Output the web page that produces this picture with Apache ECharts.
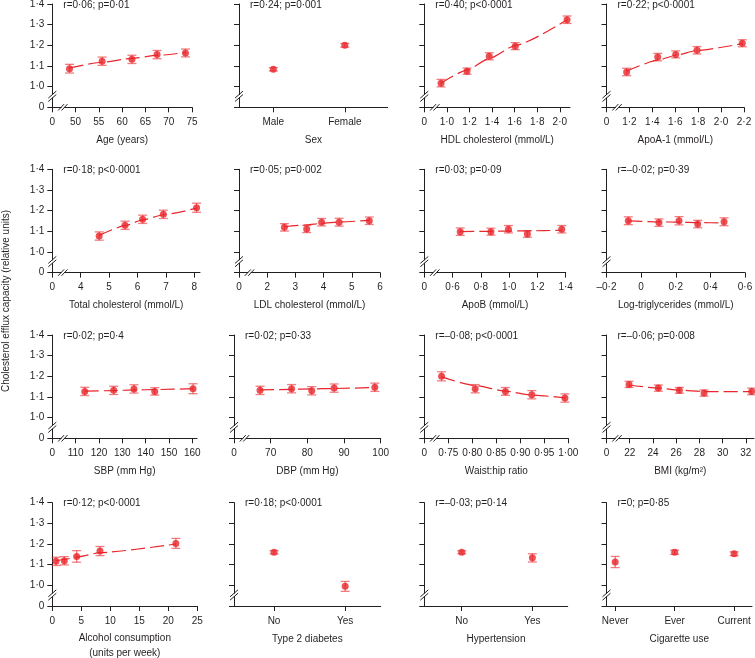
<!DOCTYPE html>
<html><head><meta charset="utf-8">
<script src="https://cdn.jsdelivr.net/npm/echarts@6/dist/echarts.min.js"></script>
<style>html,body{margin:0;padding:0;background:#fff}#c{width:755px;height:658px}</style>
</head><body><div id="c"></div>
<script>
// ---------- data ----------
const yTicks = [0.9, 1.0, 1.1, 1.2, 1.3, 1.4];
const yTickLabels = ['0', '1·0', '1·1', '1·2', '1·3', '1·4'];

const ageX = [48.7, 55.7, 62.1, 67.5, 73.6];
const ageY = [1.087, 1.123, 1.132, 1.155, 1.163];
const ageErr = [0.021, 0.02, 0.02, 0.02, 0.019];
const ageFit = [1.091, 1.118, 1.137, 1.151, 1.165];
const ageTicks = [45, 50, 55, 60, 65, 70, 75];
const ageTickLabels = ['0', '50', '55', '60', '65', '70', '75'];

const sexX = [0, 1];
const sexY = [1.084, 1.2];
const sexErr = [0.008, 0.009];
const sexTicks = [0, 1];
const sexTickLabels = ['Male', 'Female'];

const hdlX = [0.948, 1.178, 1.375, 1.605, 2.064];
const hdlY = [1.017, 1.075, 1.147, 1.196, 1.324];
const hdlErr = [0.018, 0.015, 0.017, 0.017, 0.018];
const hdlFit = [1.017, 1.080, 1.136, 1.199, 1.324];
const hdlTicks = [0.8, 1.0, 1.2, 1.4, 1.6, 1.8, 2.0];
const hdlTickLabels = ['0', '1·0', '1·2', '1·4', '1·6', '1·8', '2·0'];

const apoaX = [1.176, 1.447, 1.604, 1.79, 2.185];
const apoaY = [1.071, 1.143, 1.156, 1.176, 1.21];
const apoaErr = [0.018, 0.018, 0.017, 0.018, 0.017];
const apoaFit = [1.075, 1.128, 1.152, 1.175, 1.208];
const apoaTicks = [1.0, 1.2, 1.4, 1.6, 1.8, 2.0, 2.2];
const apoaTickLabels = ['0', '1·2', '1·4', '1·6', '1·8', '2·0', '2·2'];

const tcX = [4.65, 5.56, 6.18, 6.91, 8.08];
const tcY = [1.077, 1.129, 1.158, 1.182, 1.214];
const tcErr = [0.02, 0.02, 0.02, 0.02, 0.022];
const tcFit = [1.080, 1.127, 1.155, 1.180, 1.212];
const tcTicks = [3, 4, 5, 6, 7, 8];
const tcTickLabels = ['0', '4', '5', '6', '7', '8'];

const ldlX = [2.61, 3.40, 3.93, 4.55, 5.62];
const ldlY = [1.119, 1.111, 1.144, 1.144, 1.151];
const ldlErr = [0.018, 0.017, 0.018, 0.019, 0.018];
const ldlFit = [1.122, 1.131, 1.138, 1.145, 1.153];
const ldlTicks = [1, 2, 3, 4, 5, 6];
const ldlTickLabels = ['0', '2', '3', '4', '5', '6'];

const apobX = [0.654, 0.871, 0.995, 1.129, 1.372];
const apobY = [1.098, 1.098, 1.11, 1.087, 1.11];
const apobErr = [0.018, 0.017, 0.018, 0.016, 0.018];
const apobFit = [1.098, 1.100, 1.101, 1.102, 1.105];
const apobTicks = [0.4, 0.6, 0.8, 1.0, 1.2, 1.4];
const apobTickLabels = ['0', '0·6', '0·8', '1·0', '1·2', '1·4'];

const tgX = [-0.074, 0.103, 0.219, 0.327, 0.479];
const tgY = [1.151, 1.142, 1.151, 1.135, 1.146];
const tgErr = [0.019, 0.018, 0.02, 0.018, 0.019];
const tgFit = [1.150, 1.146, 1.144, 1.142, 1.140];
const tgTicks = [-0.2, 0, 0.2, 0.4, 0.6];
const tgTickLabels = ['–0·2', '0', '0·2', '0·4', '0·6'];

const sbpX = [113.9, 126.3, 135, 143.9, 160.3];
const sbpY = [1.127, 1.132, 1.139, 1.127, 1.14];
const sbpErr = [0.02, 0.02, 0.02, 0.018, 0.024];
const sbpFit = [1.128, 1.131, 1.134, 1.136, 1.14];
const sbpTicks = [100, 110, 120, 130, 140, 150, 160];
const sbpTickLabels = ['0', '110', '120', '130', '140', '150', '160'];

const dbpX = [67.1, 75.7, 81.2, 87.3, 98.4];
const dbpY = [1.132, 1.14, 1.13, 1.143, 1.147];
const dbpErr = [0.02, 0.02, 0.02, 0.02, 0.02];
const dbpFit = [1.134, 1.137, 1.139, 1.141, 1.146];
const dbpTicks = [60, 70, 80, 90, 100];
const dbpTickLabels = ['0', '70', '80', '90', '100'];

const whrX = [0.736, 0.806, 0.869, 0.924, 0.993];
const whrY = [1.2, 1.14, 1.127, 1.111, 1.095];
const whrErr = [0.022, 0.02, 0.019, 0.02, 0.02];
const whrFit = [1.197, 1.155, 1.128, 1.109, 1.096];
const whrTicks = [0.70, 0.75, 0.80, 0.85, 0.90, 0.95, 1.00];
const whrTickLabels = ['0', '0·75', '0·80', '0·85', '0·90', '0·95', '1·00'];

const bmiX = [21.94, 24.46, 26.27, 28.4, 32.5];
const bmiY = [1.161, 1.143, 1.132, 1.119, 1.127];
const bmiErr = [0.015, 0.015, 0.014, 0.015, 0.016];
const bmiFit = [1.158, 1.143, 1.133, 1.126, 1.126];
const bmiTicks = [20, 22, 24, 26, 28, 30, 32];
const bmiTickLabels = ['0', '22', '24', '26', '28', '30', '32'];

const alcX = [0.64, 2.07, 4.2, 8.22, 21.3];
const alcY = [1.116, 1.119, 1.14, 1.166, 1.203];
const alcErr = [0.02, 0.02, 0.028, 0.022, 0.024];
const alcFit = [1.118, 1.125, 1.137, 1.158, 1.2];
const alcTicks = [0, 5, 10, 15, 20, 25];
const alcTickLabels = ['0', '5', '10', '15', '20', '25'];

const t2dX = [0, 1];
const t2dY = [1.16, 0.995];
const t2dErr = [0.008, 0.024];
const t2dTicks = [0, 1];
const t2dTickLabels = ['No', 'Yes'];

const hypX = [0, 1];
const hypY = [1.16, 1.133];
const hypErr = [0.007, 0.02];
const hypTicks = [0, 1];
const hypTickLabels = ['No', 'Yes'];

const cigX = [0, 1, 2];
const cigY = [1.113, 1.16, 1.153];
const cigErr = [0.027, 0.01, 0.009];
const cigTicks = [0, 1, 2];
const cigTickLabels = ['Never', 'Ever', 'Current'];

const statTexts = [
  'r=0·06; p=0·01', 'r=0·24; p=0·001', 'r=0·40; p<0·0001', 'r=0·22; p<0·0001',
  'r=0·18; p<0·0001', 'r=0·05; p=0·002', 'r=0·03; p=0·09', 'r=–0·02; p=0·39',
  'r=0·02; p=0·4', 'r=0·02; p=0·33', 'r=–0·08; p<0·0001', 'r=–0·06; p=0·008',
  'r=0·12; p<0·0001', 'r=0·18; p<0·0001', 'r=–0·03; p=0·14', 'r=0; p=0·85'
];
const axisNames = [
  'Age (years)', 'Sex', 'HDL cholesterol (mmol/L)', 'ApoA-1 (mmol/L)',
  'Total cholesterol (mmol/L)', 'LDL cholesterol (mmol/L)', 'ApoB (mmol/L)', 'Log-triglycerides (mmol/L)',
  'SBP (mm Hg)', 'DBP (mm Hg)', 'Waist:hip ratio', 'BMI (kg/m²)',
  'Alcohol consumption\n(units per week)', 'Type 2 diabetes', 'Hypertension', 'Cigarette use'
];
const yTitle = 'Cholesterol efflux capacity (relative units)';

// ---------- panel assembly ----------
const panelData = [
  {x: ageX, y: ageY, e: ageErr, fit: ageFit, t: ageTicks, l: ageTickLabels, min: 45, max: 75, xb: true},
  {x: sexX, y: sexY, e: sexErr, t: sexTicks, l: sexTickLabels, min: -0.48, max: 1.6, xb: false},
  {x: hdlX, y: hdlY, e: hdlErr, fit: hdlFit, t: hdlTicks, l: hdlTickLabels, min: 0.8, max: 2.09, xb: true},
  {x: apoaX, y: apoaY, e: apoaErr, fit: apoaFit, t: apoaTicks, l: apoaTickLabels, min: 1.0, max: 2.2, xb: true},
  {x: tcX, y: tcY, e: tcErr, fit: tcFit, t: tcTicks, l: tcTickLabels, min: 3, max: 8.2, xb: true},
  {x: ldlX, y: ldlY, e: ldlErr, fit: ldlFit, t: ldlTicks, l: ldlTickLabels, min: 1, max: 6, xb: true},
  {x: apobX, y: apobY, e: apobErr, fit: apobFit, t: apobTicks, l: apobTickLabels, min: 0.4, max: 1.4, xb: true},
  {x: tgX, y: tgY, e: tgErr, fit: tgFit, t: tgTicks, l: tgTickLabels, min: -0.2, max: 0.6, xb: false},
  {x: sbpX, y: sbpY, e: sbpErr, fit: sbpFit, t: sbpTicks, l: sbpTickLabels, min: 100, max: 162, xb: true},
  {x: dbpX, y: dbpY, e: dbpErr, fit: dbpFit, t: dbpTicks, l: dbpTickLabels, min: 60, max: 100, xb: true},
  {x: whrX, y: whrY, e: whrErr, fit: whrFit, t: whrTicks, l: whrTickLabels, min: 0.70, max: 1.00, xb: true},
  {x: bmiX, y: bmiY, e: bmiErr, fit: bmiFit, t: bmiTicks, l: bmiTickLabels, min: 20, max: 32.7, xb: true},
  {x: alcX, y: alcY, e: alcErr, fit: alcFit, t: alcTicks, l: alcTickLabels, min: 0, max: 25, xb: false},
  {x: t2dX, y: t2dY, e: t2dErr, t: t2dTicks, l: t2dTickLabels, min: -0.563, max: 1.5, xb: false},
  {x: hypX, y: hypY, e: hypErr, t: hypTicks, l: hypTickLabels, min: -0.53, max: 1.5, xb: false},
  {x: cigX, y: cigY, e: cigErr, t: cigTicks, l: cigTickLabels, min: -0.146, max: 2.3, xb: false}
];

// layout (pixels)
const panelLR = [
  [52.3, 192], [239, 387.7], [424.3, 570], [606.5, 744],
  [52.3, 200], [239, 380], [424.3, 565.7], [606.5, 745],
  [52.3, 197], [234, 380.7], [424.3, 568.3], [606.5, 754],
  [52.3, 197.3], [234, 380.7], [424.3, 567.7], [606.5, 752]
];
const rowTop = [4, 169.3, 335, 502.7];
const rowH = 103.3;

const FONT = 'Liberation Sans';
const INK = '#231f20';
const RED = '#e8262b';
const RED_ERR = 'rgba(232,38,43,0.6)';

function lookup(ticks, labels, v) {
  for (let j = 0; j < ticks.length; j++) if (Math.abs(ticks[j] - v) < 1e-6) return labels[j];
  return '';
}

const grids = [], xAxes = [], yAxes = [], series = [], graphics = [];

panelData.forEach((p, i) => {
  const row = Math.floor(i / 4), col = i % 4;
  const [l, r] = panelLR[i];
  const top = rowTop[row];
  grids.push({left: l, top: top, width: r - l, height: rowH, containLabel: false, outerBoundsMode: 'none'});
  const multi = axisNames[i].indexOf('\n') >= 0;
  xAxes.push({
    type: 'value', gridIndex: i, min: p.min, max: p.max,
    splitLine: {show: false},
    axisLine: {show: true, onZero: false, lineStyle: {color: INK, width: 1}},
    axisTick: {show: true, length: 5, customValues: p.t, lineStyle: {color: INK, width: 1}},
    axisLabel: {show: true, customValues: p.t, formatter: v => lookup(p.t, p.l, v), margin: 10,
      color: INK, fontSize: 10, fontFamily: FONT},
    name: axisNames[i], nameLocation: 'middle', nameGap: multi ? 25 : 27,
    nameTextStyle: {color: INK, fontSize: 10, fontFamily: FONT, lineHeight: multi ? 15 : 12}
  });
  yAxes.push({
    type: 'value', gridIndex: i, min: 0.9, max: 1.4,
    splitLine: {show: false},
    axisLine: {show: true, onZero: false, lineStyle: {color: INK, width: 1}},
    axisTick: {show: true, length: 5, customValues: yTicks, lineStyle: {color: INK, width: 1}},
    axisLabel: {show: col === 0, customValues: yTicks, formatter: v => lookup(yTicks, yTickLabels, v),
      margin: 8, color: INK, fontSize: 10, fontFamily: FONT}
  });
  // error bars
  series.push({
    type: 'custom', xAxisIndex: i, yAxisIndex: i, coordinateSystem: 'cartesian2d', z: 2, clip: false,
    encode: {x: 0, y: 1},
    data: p.x.map((xv, k) => [xv, p.y[k], p.e[k]]),
    renderItem: (params, api) => {
      const xv = api.value(0), yv = api.value(1), ev = api.value(2);
      const lo = api.coord([xv, yv - ev]), hi = api.coord([xv, yv + ev]);
      const w = 4.5;
      const style = {stroke: RED_ERR, lineWidth: 1.3};
      return {type: 'group', children: [
        {type: 'line', shape: {x1: lo[0], y1: lo[1], x2: hi[0], y2: hi[1]}, style: style},
        {type: 'line', shape: {x1: lo[0] - w, y1: lo[1], x2: lo[0] + w, y2: lo[1]}, style: style},
        {type: 'line', shape: {x1: hi[0] - w, y1: hi[1], x2: hi[0] + w, y2: hi[1]}, style: style}
      ]};
    }
  });
  if (p.fit) {
    series.push({
      type: 'line', xAxisIndex: i, yAxisIndex: i, z: 3, symbol: 'none', silent: true, clip: false,
      smooth: 0.2, smoothMonotone: 'x',
      data: p.x.map((xv, k) => [xv, p.fit[k]]),
      lineStyle: {color: RED, width: 1.2, type: [14, 5]}
    });
  }
  series.push({
    type: 'scatter', xAxisIndex: i, yAxisIndex: i, z: 4, symbol: 'circle', symbolSize: 7, clip: false,
    data: p.x.map((xv, k) => [xv, p.y[k]]),
    itemStyle: {color: RED}
  });

  // stat annotation
  graphics.push({type: 'text', z: 50, x: l + 11, y: top + 1,
    style: {text: statTexts[i], fill: INK, font: "10px 'Liberation Sans'", verticalAlign: 'middle', align: 'left'}});

  // y-axis break
  const ax = l, yb = top + rowH - 11;
  graphics.push({type: 'rect', z: 60, shape: {x: ax - 2, y: yb - 1.3, width: 4, height: 2.6}, style: {fill: '#fff'}});
  [-1.7, 1.7].forEach(d => graphics.push({type: 'line', z: 61,
    shape: {x1: ax - 4, y1: yb + d + 3.5, x2: ax + 4, y2: yb + d - 3.5}, style: {stroke: INK, lineWidth: 1}}));
  // x-axis break
  if (p.xb) {
    const xb = l + 10.5, ay = top + rowH;
    graphics.push({type: 'rect', z: 60, shape: {x: xb - 1.3, y: ay - 2, width: 2.6, height: 4}, style: {fill: '#fff'}});
    [-1.7, 1.7].forEach(d => graphics.push({type: 'line', z: 61,
      shape: {x1: xb + d - 3, y1: ay + 3.2, x2: xb + d + 3, y2: ay - 3.2}, style: {stroke: INK, lineWidth: 1}}));
  }
});

// y-axis title
graphics.push({type: 'text', z: 50, x: 6, y: 301, rotation: Math.PI / 2,
  style: {text: yTitle, fill: INK, font: "10px 'Liberation Sans'", align: 'center', verticalAlign: 'middle'}});

const chart = echarts.init(document.getElementById('c'), null, {renderer: 'canvas'});
chart.setOption({
  backgroundColor: '#fff',
  animation: false,
  grid: grids, xAxis: xAxes, yAxis: yAxes, series: series, graphic: graphics
});
</script>
</body></html>
